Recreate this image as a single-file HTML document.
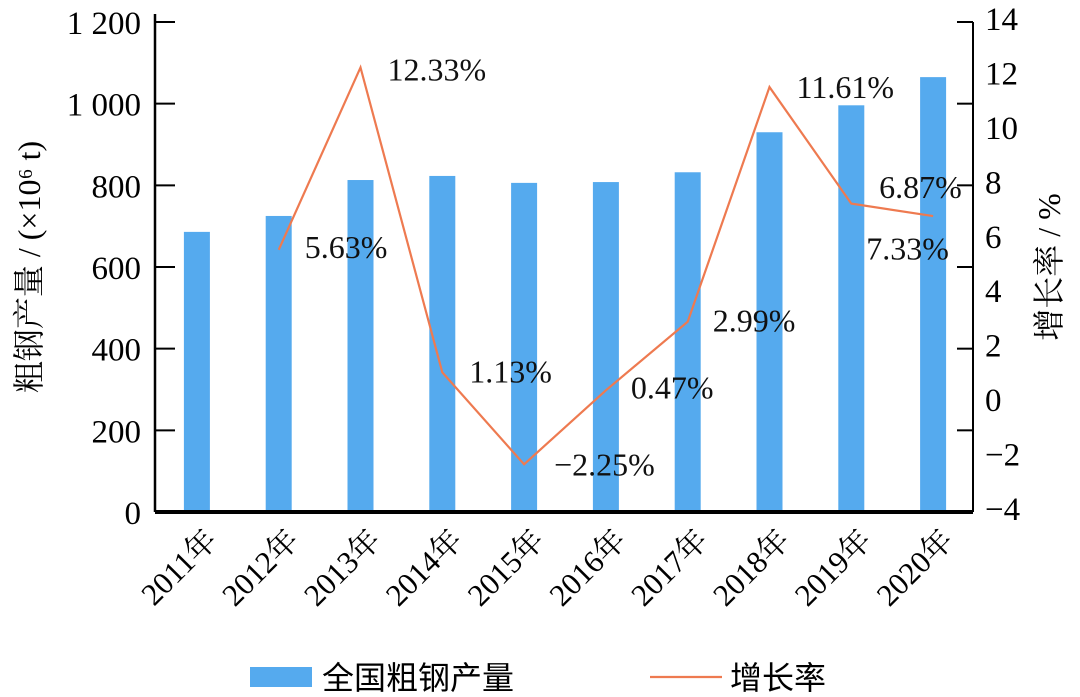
<!DOCTYPE html>
<html><head><meta charset="utf-8"><style>
body{margin:0;background:#fff}
svg{display:block;font-family:"Liberation Serif","Noto Serif CJK SC","Noto Sans CJK SC",serif}
</style></head><body>
<svg id="c" width="1080" height="697" viewBox="0 0 1080 697"></svg>
<script>
const categories=["2011年","2012年","2013年","2014年","2015年","2016年","2017年","2018年","2019年","2020年"];
const production=[686,725,813,823,806,808,832,930,996,1065];
const growth=[null,5.63,12.33,1.13,-2.25,0.47,2.99,11.61,7.33,6.87];
const growthLabels=["","5.63%","12.33%","1.13%","−2.25%","0.47%","2.99%","11.61%","7.33%","6.87%"];
const leftTicks=["0","200","400","600","800","1 000","1 200"];
const rightTicks=["−4","−2","0","2","4","6","8","10","12","14"];
const labelOffsets=[[0,0],[26,8],[27,13],[27,10],[30,11],[25,8],[25,10],[27,11],[15,56],[-54,-18]];
const NS="http://www.w3.org/2000/svg";
const svg=document.getElementById('c');
const L=155,R=973,T=22,B=512;
const yL=v=>B-(v/1200)*(B-T);
const yR=v=>B-((v+4)/18)*(B-T);
const bw=(R-L)/categories.length;
const xC=i=>L+bw*(i+0.5)+1;
function mk(t,a,txt){const e=document.createElementNS(NS,t);for(const k in a)e.setAttribute(k,a[k]);if(txt!=null)e.textContent=txt;svg.appendChild(e);return e;}
production.forEach((v,i)=>{
 const r=mk('rect',{x:xC(i)-13,y:yL(v),width:26,height:B-yL(v),fill:'#55aaee'});
 
 
});
let pts=[];growth.forEach((v,i)=>{if(v!=null)pts.push(xC(i)+','+yR(v));});
const pl=mk('polyline',{points:pts.join(' '),fill:'none',stroke:'#ee7a50','stroke-width':2.2});


growth.forEach((v,i)=>{if(v==null)return;
 const t=mk('text',{x:xC(i)+labelOffsets[i][0],y:yR(v)+labelOffsets[i][1],'font-size':32,fill:'#111'},growthLabels[i]);
 
 
});
mk('line',{x1:L,y1:T-8,x2:L,y2:B,stroke:'#000','stroke-width':2.5});
mk('line',{x1:R,y1:T,x2:R,y2:B,stroke:'#000','stroke-width':2});
mk('line',{x1:L,y1:B,x2:R,y2:B,stroke:'#000','stroke-width':4});
leftTicks.forEach((s,i)=>{const y=yL(i*200);
 mk('line',{x1:L,y1:y,x2:L+20,y2:y,stroke:'#000','stroke-width':2});
 mk('line',{x1:R-16,y1:y,x2:R,y2:y,stroke:'#000','stroke-width':2});
 const t=mk('text',{x:L-14,y:y+12,'font-size':33,'text-anchor':'end'},s);
 
 
});
rightTicks.forEach((s,i)=>{const v=-4+2*i;
 const t=mk('text',{x:R+12,y:yR(v)+8,'font-size':33},s);
 
 
});
categories.forEach((c,i)=>{
 const t=mk('text',{x:xC(i)+22,y:B+30,'font-size':31,'text-anchor':'end',transform:`rotate(-45 ${xC(i)+22} ${B+30})`},c);
 
 
});
const yt=mk('text',{x:40,y:267,'font-size':32,'text-anchor':'middle',transform:'rotate(-90 40 267)'},'粗钢产量 / (×10⁶ t)');

const yt2=mk('text',{x:1060,y:267,'font-size':32,'text-anchor':'middle',transform:'rotate(-90 1060 267)'},'增长率 / %');

const lg1=mk('rect',{x:250,y:667,width:62,height:20,fill:'#55aaee'});

const lt1=mk('text',{x:322,y:689,'font-size':32,'font-family':'"Noto Sans CJK SC",sans-serif'},'全国粗钢产量');

const lg2=mk('line',{x1:650,y1:677,x2:722,y2:677,stroke:'#ee7a50','stroke-width':2.2});

const lt2=mk('text',{x:730,y:689,'font-size':32,'font-family':'"Noto Sans CJK SC",sans-serif'},'增长率');

</script>
</body></html>
